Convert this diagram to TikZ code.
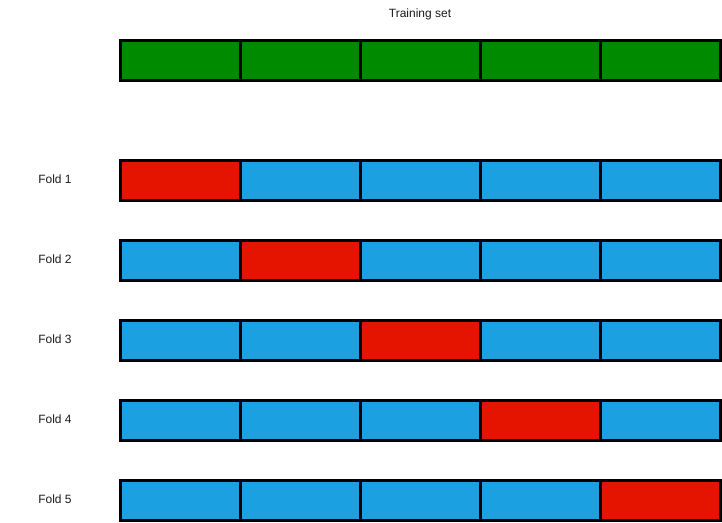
\documentclass[tikz,border=0pt]{standalone}
\usepackage{fontspec}
\setmainfont{Liberation Sans}
\definecolor{trgreen}{HTML}{008A00}
\definecolor{fblue}{HTML}{1BA1E2}
\definecolor{fred}{HTML}{E51400}
\definecolor{txt}{HTML}{1A1A1A}
\begin{document}
\begin{tikzpicture}[x=1pt,y=-1pt,
  cell/.style={draw=black,line width=3pt,minimum width=120pt,minimum height=40pt,inner sep=0pt,outer sep=0pt,anchor=north west},
  lbl/.style={font=\fontsize{12}{14}\selectfont,text=txt,inner sep=0pt}]
\useasboundingbox (0,0) rectangle (722,522);
\node[lbl] (title) at (420,14) {Training set};
\foreach \i in {0,...,4}{
  \node[cell,fill=trgreen] (t\i) at (120+120*\i,40) {};
}
\foreach \f in {1,...,5}{
  \pgfmathsetmacro{\yy}{80+80*\f}
  \node[lbl] (fold\f) at (55,\yy+19) {Fold \f};
  \foreach \i in {1,...,5}{
    \ifnum\i=\f
      \node[cell,fill=fred] (c\f\i) at (120*\i,\yy) {};
    \else
      \node[cell,fill=fblue] (c\f\i) at (120*\i,\yy) {};
    \fi
  }
}
\end{tikzpicture}
\end{document}
